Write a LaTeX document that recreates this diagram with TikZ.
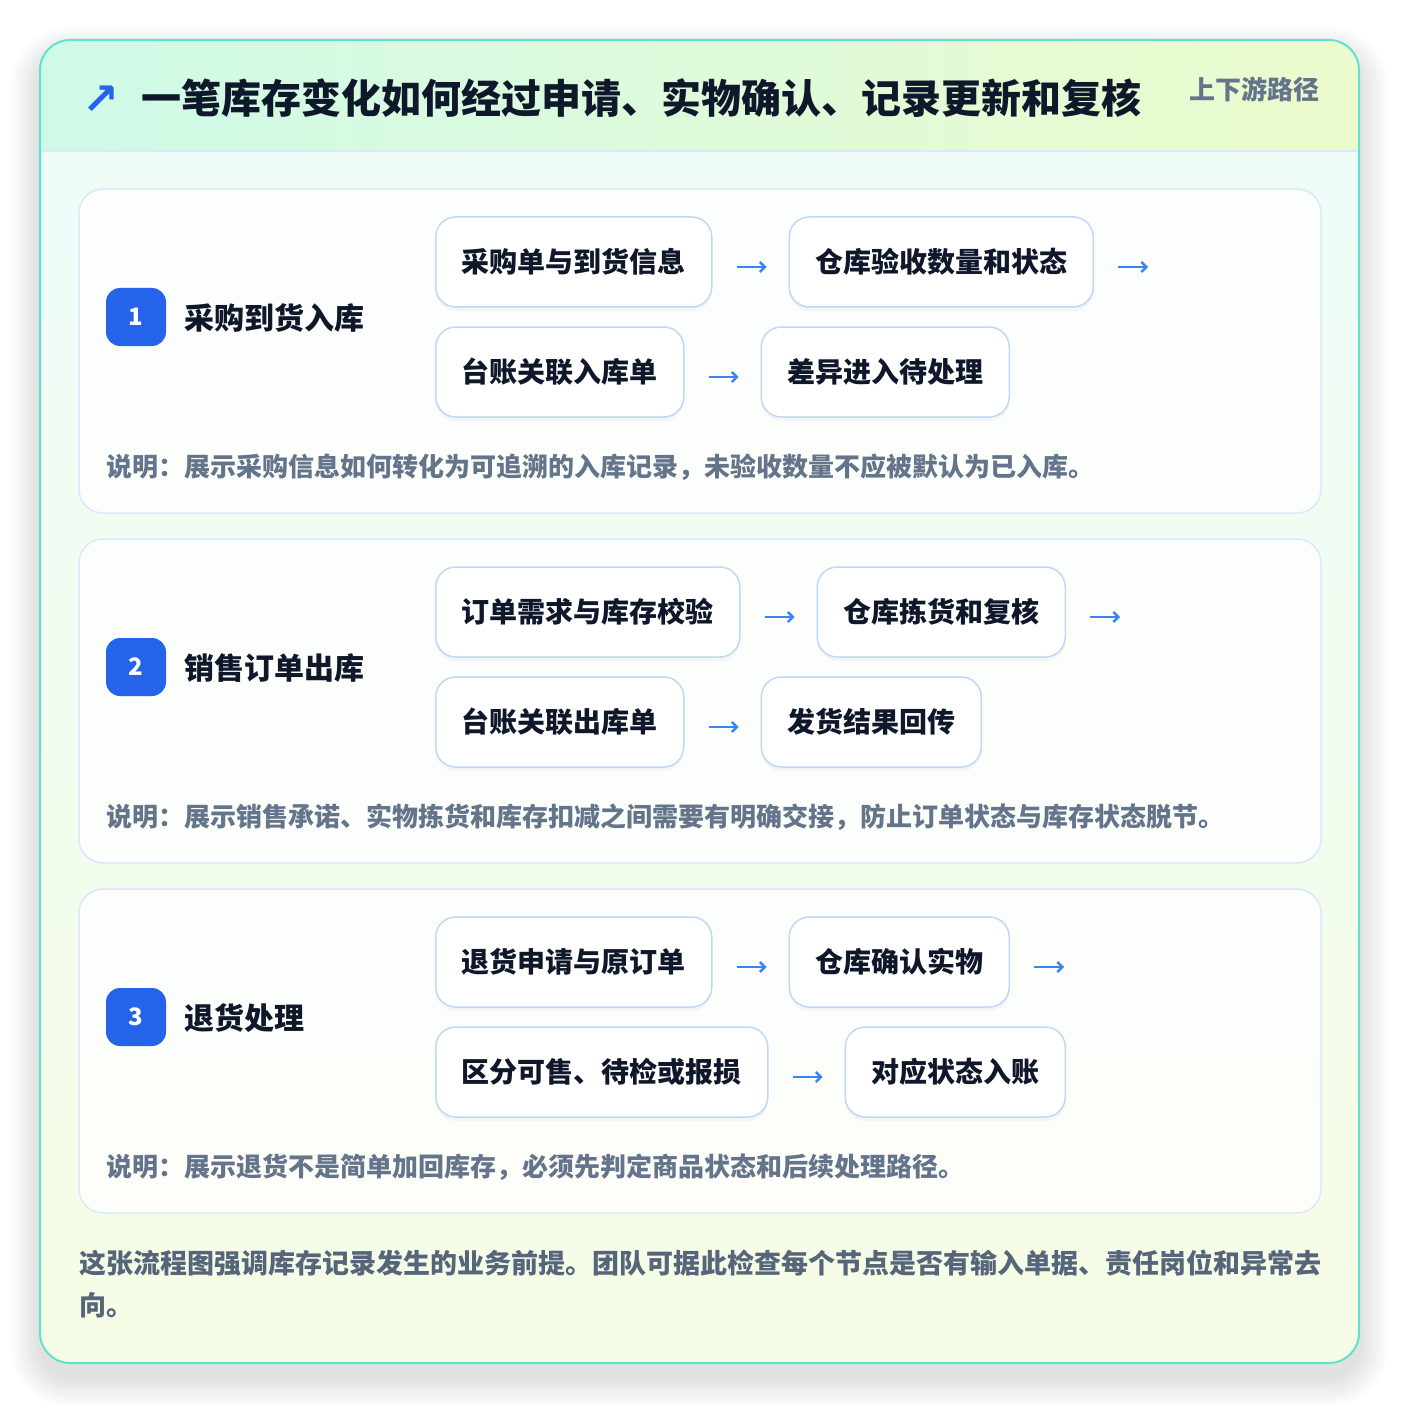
\documentclass[tikz,border=0pt]{standalone}
\usepackage{fontspec}
\setmainfont{Noto Sans CJK SC}
\newfontfamily\symfont{DejaVu Sans}
\usepackage{xcolor}
\usetikzlibrary{positioning,arrows.meta,shadows}

\definecolor{cardline}{HTML}{5EE3CF}
\definecolor{headleft}{HTML}{CFFAE8}
\definecolor{headright}{HTML}{ECFBCD}
\definecolor{bodytop}{HTML}{EFFCF8}
\definecolor{bodybottom}{HTML}{F6FDE6}
\definecolor{secline}{HTML}{DCE8FC}
\definecolor{boxline}{HTML}{BFD8F8}
\definecolor{badgeblue}{HTML}{2563EB}
\definecolor{flowblue}{HTML}{3B82F6}
\definecolor{ink}{HTML}{0F172A}
\definecolor{muted}{HTML}{64748B}
\definecolor{footink}{HTML}{56657A}

\begin{document}
\begin{tikzpicture}[x=1pt,y=-1pt,
    stepbox/.style={draw=boxline, line width=1.5pt, fill=white, rounded corners=20pt,
      minimum height=90pt, inner xsep=26pt, inner ysep=0pt,
      font=\fontsize{28}{34}\selectfont\bfseries, text=ink,
      drop shadow={shadow xshift=0pt, shadow yshift=-4pt, opacity=0.03, fill=black}},
    badge/.style={fill=badgeblue, rounded corners=14pt, minimum width=60pt, minimum height=58pt,
      inner sep=0pt, text=white, font=\fontsize{24}{26}\selectfont\bfseries},
    sectitle/.style={anchor=west, inner sep=0pt, text=ink, font=\fontsize{30}{34}\selectfont\bfseries},
    note/.style={anchor=west, inner sep=0pt, text=muted, font=\fontsize{26}{30}\selectfont\bfseries},
    seccard/.style={draw=secline, line width=1.5pt, fill=white, fill opacity=0.8, rounded corners=24pt},
    flow/.style={draw=flowblue, line width=2.4pt, -{Straight Barb[length=5pt,width=10pt]}, shorten <=24pt, shorten >=22pt}]

    \useasboundingbox (0,0) rectangle (1400,1404);
    \fill[white] (0,0) rectangle (1400,1404);

    % soft shadow of the card
    \foreach \i in {1,...,30}
        \fill[black, opacity=0.0035, rounded corners=30pt+\i pt] (40-\i,56-\i) rectangle (1359+\i,1377+\i);

    % card background
    \begin{scope}
        \clip[rounded corners=30pt] (40,40) rectangle (1359,1363);
        \shade[top color=bodytop, bottom color=bodybottom] (40,151) rectangle (1359,1363);
        \shade[left color=headleft, right color=headright] (40,40) rectangle (1359,151);
        \draw[secline, line width=1.5pt] (40,151) -- (1359,151);
    \end{scope}
    \draw[cardline, line width=2pt, rounded corners=30pt] (40,40) rectangle (1359,1363);

    % title
    \node[anchor=center, inner sep=0pt, text=badgeblue, font=\symfont\fontsize{44}{46}\selectfont\bfseries] (icon) at (101,100) {↗};
    \node[anchor=west, inner sep=0pt, text=ink, font=\fontsize{40}{46}\selectfont\bfseries] (title) at (141,98) {一笔库存变化如何经过申请、实物确认、记录更新和复核};
    \node[anchor=west, inner sep=0pt, text=muted, font=\fontsize{26}{30}\selectfont\bfseries] (tag) at (1189,89) {上下游路径};

    % section 1
    \draw[seccard] (79,189) rectangle (1321,513);
    \node[badge] (b1) at (136,317) {1};
    \node[sectitle] (t1) at (184,318) {采购到货入库};
    \node[stepbox, anchor=west] (p1) at (435,262) {采购单与到货信息};
    \node[stepbox, right=76pt of p1] (p2) {仓库验收数量和状态};
    \coordinate[right=54pt of p2] (p2e);
    \node[stepbox, anchor=west] (p3) at (435,372) {台账关联入库单};
    \node[stepbox, right=76pt of p3] (p4) {差异进入待处理};
    \draw[flow] ([yshift=-5pt]p1.east) -- ([yshift=-5pt]p2.west);
    \draw[flow, shorten >=0pt] ([yshift=-5pt]p2.east) -- ([yshift=-5pt]p2e);
    \draw[flow] ([yshift=-5pt]p3.east) -- ([yshift=-5pt]p4.west);
    \node[note] (n1) at (106,467) {说明：展示采购信息如何转化为可追溯的入库记录，未验收数量不应被默认为已入库。};

    % section 2
    \draw[seccard] (79,539) rectangle (1321,863);
    \node[badge] (b2) at (136,667) {2};
    \node[sectitle] (t2) at (184,668) {销售订单出库};
    \node[stepbox, anchor=west] (s1) at (435,612) {订单需求与库存校验};
    \node[stepbox, right=76pt of s1] (s2) {仓库拣货和复核};
    \coordinate[right=54pt of s2] (s2e);
    \node[stepbox, anchor=west] (s3) at (435,722) {台账关联出库单};
    \node[stepbox, right=76pt of s3] (s4) {发货结果回传};
    \draw[flow] ([yshift=-5pt]s1.east) -- ([yshift=-5pt]s2.west);
    \draw[flow, shorten >=0pt] ([yshift=-5pt]s2.east) -- ([yshift=-5pt]s2e);
    \draw[flow] ([yshift=-5pt]s3.east) -- ([yshift=-5pt]s4.west);
    \node[note] (n2) at (106,817) {说明：展示销售承诺、实物拣货和库存扣减之间需要有明确交接，防止订单状态与库存状态脱节。};

    % section 3
    \draw[seccard] (79,889) rectangle (1321,1213);
    \node[badge] (b3) at (136,1017) {3};
    \node[sectitle] (t3) at (184,1018) {退货处理};
    \node[stepbox, anchor=west] (r1) at (435,962) {退货申请与原订单};
    \node[stepbox, right=76pt of r1] (r2) {仓库确认实物};
    \coordinate[right=54pt of r2] (r2e);
    \node[stepbox, anchor=west] (r3) at (435,1072) {区分可售、待检或报损};
    \node[stepbox, right=76pt of r3] (r4) {对应状态入账};
    \draw[flow] ([yshift=-5pt]r1.east) -- ([yshift=-5pt]r2.west);
    \draw[flow, shorten >=0pt] ([yshift=-5pt]r2.east) -- ([yshift=-5pt]r2e);
    \draw[flow] ([yshift=-5pt]r3.east) -- ([yshift=-5pt]r4.west);
    \node[note] (n3) at (106,1167) {说明：展示退货不是简单加回库存，必须先判定商品状态和后续处理路径。};

    % footer
    \node[anchor=north west, inner sep=0pt, align=left, text=footink, font=\fontsize{27}{42}\selectfont\bfseries] (foot) at (79,1250)
        {这张流程图强调库存记录发生的业务前提。团队可据此检查每个节点是否有输入单据、责任岗位和异常去\\向。};
\end{tikzpicture}
\end{document}
